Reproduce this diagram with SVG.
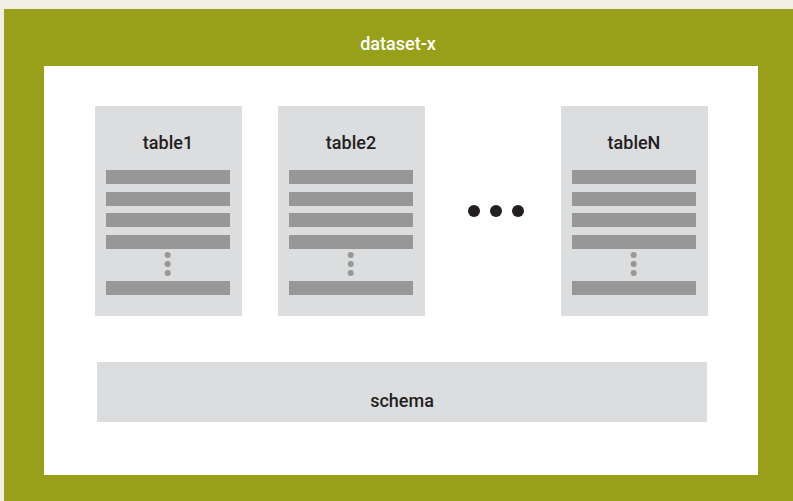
<svg xmlns="http://www.w3.org/2000/svg" width="793" height="501" viewBox="0 0 793 501">
<style>
.title{font-family:"Roboto","Liberation Sans",sans-serif;font-weight:500;font-size:18px;fill:#231f20;text-anchor:middle}
.box{fill:#dcdddf}
.bar{fill:#979797}
.vd{fill:#979797}
</style>
<defs>
<g id="rows">
<rect class="bar" x="11" y="64" width="124" height="14"/>
<rect class="bar" x="11" y="86" width="124" height="14"/>
<rect class="bar" x="11" y="107" width="124" height="14"/>
<rect class="bar" x="11" y="129" width="124" height="14"/>
<circle class="vd" cx="72.7" cy="149" r="3"/>
<circle class="vd" cx="72.7" cy="158" r="3"/>
<circle class="vd" cx="72.7" cy="167" r="3"/>
<rect class="bar" x="11" y="175" width="124" height="14"/>
</g>
</defs>
<rect x="0" y="0" width="793" height="501" fill="#eff0e3"/>
<g id="dataset">
<rect x="4" y="9" width="789" height="492" fill="#98a019"/>
<rect x="44" y="66" width="714" height="409" fill="#ffffff"/>
<text x="398" y="50" class="title" style="fill:#ffffff">dataset-x</text>
</g>
<g id="table1" transform="translate(95,106)">
<rect class="box" width="147" height="210"/>
<text x="73" y="43" class="title">table1</text>
<use href="#rows"/>
</g>
<g id="table2" transform="translate(278,106)">
<rect class="box" width="147" height="210"/>
<text x="73" y="43" class="title">table2</text>
<use href="#rows"/>
</g>
<g id="ellipsis" fill="#231f20">
<circle cx="474" cy="211" r="6"/>
<circle cx="496" cy="211" r="6"/>
<circle cx="518" cy="211" r="6"/>
</g>
<g id="tableN" transform="translate(561,106)">
<rect class="box" width="147" height="210"/>
<text x="73" y="43" class="title">tableN</text>
<use href="#rows"/>
</g>
<g id="schema">
<rect class="box" x="97" y="362" width="610" height="60"/>
<text x="402" y="407" class="title">schema</text>
</g>
<g id="connectors"/>
</svg>
